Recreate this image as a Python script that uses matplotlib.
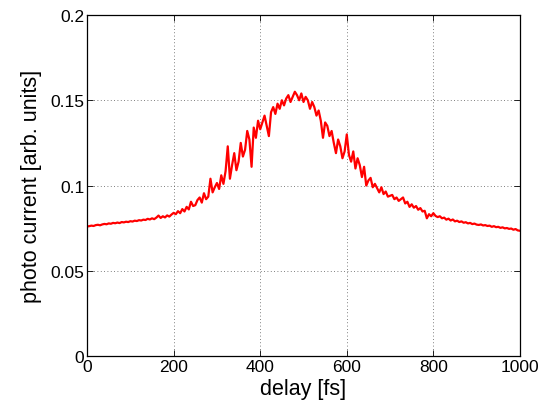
import numpy as np
import matplotlib
matplotlib.use("Agg")
import matplotlib.pyplot as plt

current = [
    0.0760, 0.0762, 0.0765, 0.0763, 0.0768, 0.0770, 0.0767, 0.0772, 0.0775, 0.0773,  # 0
    0.0778, 0.0776, 0.0781, 0.0779, 0.0783, 0.0780, 0.0786, 0.0784, 0.0788, 0.0786,  # 50
    0.0791, 0.0789, 0.0794, 0.0792, 0.0797, 0.0795, 0.0800, 0.0798, 0.0805, 0.0801,  # 100
    0.0808, 0.0803, 0.0812, 0.0824, 0.0810, 0.0820, 0.0813, 0.0825, 0.0818, 0.0830,  # 150
    0.0840, 0.0832, 0.0850, 0.0838, 0.0862, 0.0848, 0.0875, 0.0860, 0.0905, 0.0880,  # 200
    0.0885, 0.0915, 0.0930, 0.0900, 0.0955, 0.0920, 0.0935, 0.1040, 0.0960, 0.0990,  # 250
    0.1015, 0.0980, 0.1060, 0.1010, 0.1085, 0.1230, 0.1040, 0.1120, 0.1190, 0.1090,  # 300
    0.1140, 0.1250, 0.1170, 0.1210, 0.1320, 0.1270, 0.1110, 0.1340, 0.1280, 0.1380,  # 350
    0.1330, 0.1370, 0.1410, 0.1350, 0.1290, 0.1430, 0.1460, 0.1420, 0.1480, 0.1450,  # 400
    0.1500, 0.1470, 0.1510, 0.1530, 0.1490, 0.1520, 0.1550, 0.1530, 0.1500, 0.1540,  # 450
    0.1490, 0.1520, 0.1500, 0.1450, 0.1490, 0.1460, 0.1410, 0.1440, 0.1380, 0.1280,  # 500
    0.1370, 0.1350, 0.1290, 0.1320, 0.1250, 0.1190, 0.1270, 0.1230, 0.1160, 0.1200,  # 550
    0.1300, 0.1180, 0.1140, 0.1200, 0.1100, 0.1160, 0.1120, 0.1050, 0.1110, 0.1000,  # 600
    0.1030, 0.1045, 0.0990, 0.1010, 0.0985, 0.0960, 0.0990, 0.0950, 0.0965, 0.0935,  # 650
    0.0940, 0.0945, 0.0920, 0.0930, 0.0910, 0.0920, 0.0930, 0.0895, 0.0905, 0.0875,  # 700
    0.0890, 0.0870, 0.0880, 0.0858, 0.0868, 0.0848, 0.0852, 0.0808, 0.0832, 0.0820,  # 750
    0.0838, 0.0822, 0.0815, 0.0820, 0.0808, 0.0812, 0.0800, 0.0806, 0.0795, 0.0801,  # 800
    0.0790, 0.0794, 0.0786, 0.0790, 0.0782, 0.0785, 0.0778, 0.0781, 0.0774, 0.0777,  # 850
    0.0771, 0.0769, 0.0772, 0.0766, 0.0768, 0.0763, 0.0765, 0.0758, 0.0762, 0.0756,  # 900
    0.0758, 0.0752, 0.0755, 0.0749, 0.0751, 0.0746, 0.0748, 0.0741, 0.0745, 0.0737,  # 950
    0.0735,                                                                          # 1000
]
delay = np.arange(0, 1001, 5)

xticks = [0, 200, 400, 600, 800, 1000]
yticks = [0, 0.05, 0.1, 0.15, 0.2]
yticklabels = ["0", "0.05", "0.1", "0.15", "0.2"]

plt.rcParams['font.family'] = ['Liberation Sans', 'DejaVu Sans']

fig = plt.figure(figsize=(5.41, 4.10), dpi=100)
ax = fig.add_axes([0.161, 0.129, 0.800, 0.832])

ax.plot(delay, current, color='red', lw=1.6)

ax.set_xlim(0, 1000)
ax.set_ylim(0, 0.2)
ax.set_xticks(xticks)
ax.set_yticks(yticks)
ax.set_yticklabels(yticklabels)
ax.tick_params(direction='in', top=True, right=True, length=4, width=0.6,
               labelsize=12.5, pad=2)
ax.grid(True, color='#555555', linestyle=(0, (1, 3)), linewidth=0.6)
for sp in ax.spines.values():
    sp.set_linewidth(0.9)

ax.set_xlabel('delay [fs]', fontsize=15.5, labelpad=3)
ax.set_ylabel('photo current [arb. units]', fontsize=15.5, labelpad=6)

fig.savefig('out.png', dpi=100)
